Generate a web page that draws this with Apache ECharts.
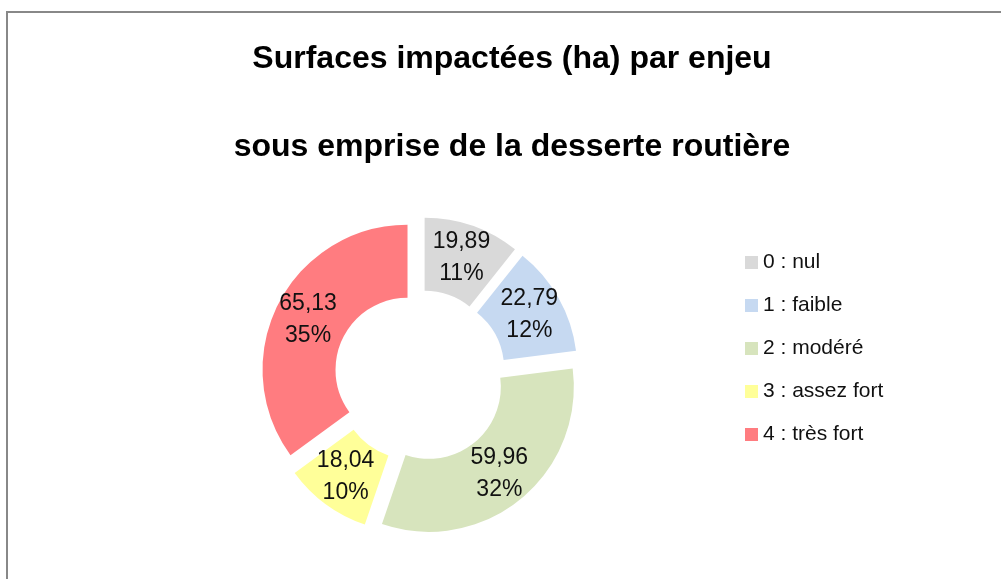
<!DOCTYPE html>
<html>
<head>
<meta charset="utf-8">
<script src="https://cdn.jsdelivr.net/npm/echarts@6/dist/echarts.min.js"></script>
<style>
html,body{margin:0;padding:0;background:#fff;}
#chart{width:1001px;height:579px;}
</style>
</head>
<body>
<div id="chart"></div>
<script>
const titleLines = ['Surfaces impactées (ha) par enjeu', 'sous emprise de la desserte routière'];
const categories = ['0 : nul', '1 : faible', '2 : modéré', '3 : assez fort', '4 : très fort'];
const values = [19.89, 22.79, 59.96, 18.04, 65.13];
const colors = ['#d9d9d9', '#c6d9f1', '#d7e4bd', '#ffff99', '#ff7c80'];

const chart = echarts.init(document.getElementById('chart'), null, {renderer: 'canvas'});
const textColor = '#111111';
chart.setOption({
  animation: false,
  backgroundColor: '#ffffff',
  graphic: [{
    type: 'rect',
    silent: true,
    shape: {x: 7, y: 12, width: 1200, height: 800},
    style: {fill: 'none', stroke: '#888888', lineWidth: 2}
  }],
  title: [
    {text: titleLines[0], left: 507, textAlign: 'center', top: 38,
     textStyle: {fontFamily: 'Liberation Sans', fontWeight: 'bold', fontSize: 32, color: '#000'}},
    {text: titleLines[1], left: 507, textAlign: 'center', top: 126,
     textStyle: {fontFamily: 'Liberation Sans', fontWeight: 'bold', fontSize: 32, color: '#000'}}
  ],
  legend: {
    orient: 'vertical',
    left: 740,
    top: 247,
    icon: 'rect',
    itemWidth: 13,
    itemHeight: 13,
    itemGap: 22,
    selectedMode: false,
    data: categories,
    textStyle: {fontFamily: 'Liberation Sans', fontSize: 21, color: textColor}
  },
  series: [{
    type: 'pie',
    center: [420, 376],
    radius: [72, 145],
    startAngle: 90,
    clockwise: true,
    selectedMode: 'multiple',
    selectedOffset: 14,
    avoidLabelOverlap: false,
    emphasis: {disabled: true},
    itemStyle: {borderWidth: 0},
    label: {
      show: true,
      position: 'inside',
      fontFamily: 'Liberation Sans',
      fontSize: 23,
      lineHeight: 32,
      color: textColor,
      formatter: function (p) {
        return p.value.toFixed(2).replace('.', ',') + '\n' + Math.round(p.percent) + '%';
      }
    },
    labelLine: {show: false},
    data: categories.map(function (c, i) {
      return {name: c, value: values[i], selected: true, itemStyle: {color: colors[i]},
              select: {itemStyle: {color: colors[i]}}};
    })
  }]
});
</script>
</body>
</html>
